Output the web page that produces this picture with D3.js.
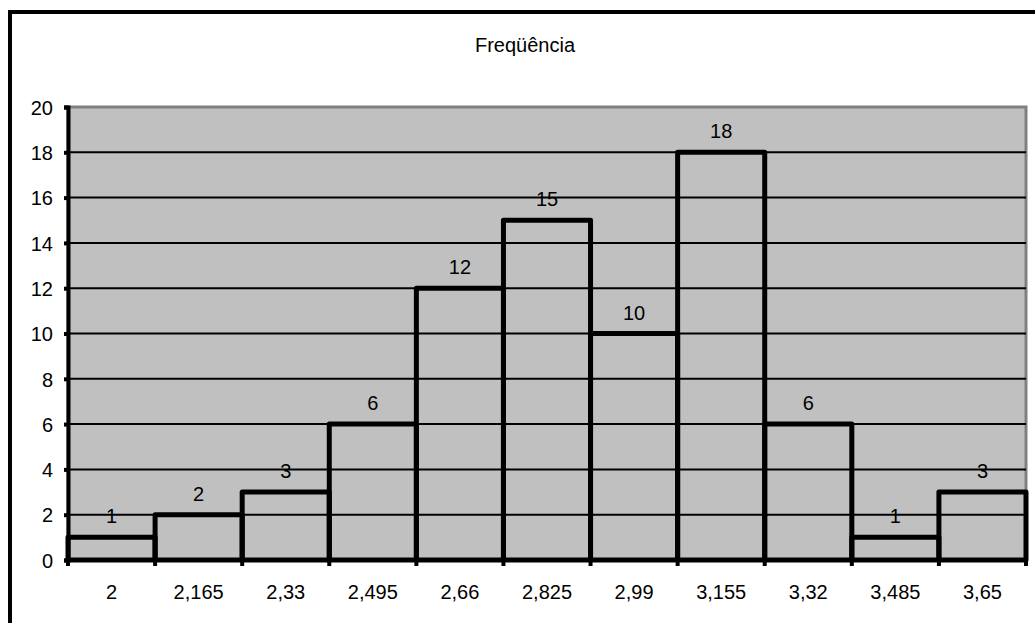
<!DOCTYPE html>
<html>
<head>
  <meta charset="UTF-8">
  <style>
    body { margin: 0; background: #fff; }
    text { font-family: "Liberation Sans", Arial, sans-serif; font-size: 20px; fill: #000; }
  </style>
</head>
<body>
<svg></svg>
<script src="https://d3js.org/d3.v7.min.js"></script>
<script>
// chart data
var title = "Freqüência";
var bins = ["2", "2,165", "2,33", "2,495", "2,66", "2,825", "2,99", "3,155", "3,32", "3,485", "3,65"];
var counts = [1, 2, 3, 6, 12, 15, 10, 18, 6, 1, 3];
var yTicks = [0, 2, 4, 6, 8, 10, 12, 14, 16, 18, 20];

let width = 1035, height = 623;
let svg = d3.select("svg").attr("width", width).attr("height", height);

// outer frame (runs off the right/bottom edge like the original)
svg.append("rect")
    .attr("x", 10).attr("y", 12)
    .attr("width", 1040).attr("height", 640)
    .attr("fill", "#fff")
    .attr("stroke", "#000")
    .attr("stroke-width", 4);

svg.append("text")
    .attr("x", 525).attr("y", 52)
    .attr("text-anchor", "middle")
    .text(title);

const plotL = 68, plotR = 1026, plotT = 107, plotB = 560;

var x = d3.scaleBand().domain(bins).range([plotL, plotR]);
var y = d3.scaleLinear().domain([0, 20]).range([plotB, plotT]);

// plot area
svg.append("rect")
    .attr("x", plotL).attr("y", plotT)
    .attr("width", plotR - plotL).attr("height", plotB - plotT)
    .attr("fill", "#c0c0c0")
    .attr("stroke", "#808080")
    .attr("stroke-width", 3);

// gridlines
svg.append("g")
    .selectAll("line")
    .data(yTicks.filter(d => d > 0 && d < 20))
    .enter()
    .append("line")
    .attr("x1", plotL).attr("x2", plotR)
    .attr("y1", d => y(d)).attr("y2", d => y(d))
    .attr("stroke", "#000")
    .attr("stroke-width", 2);

// bars
svg.append("g")
    .selectAll("rect")
    .data(counts)
    .enter()
    .append("rect")
    .attr("x", (d, i) => x(bins[i]))
    .attr("y", d => y(d))
    .attr("width", x.bandwidth())
    .attr("height", d => plotB - y(d))
    .attr("fill", "none")
    .attr("stroke", "#000")
    .attr("stroke-width", 5)
    .attr("stroke-linejoin", "round");

// value labels
svg.append("g")
    .selectAll("text")
    .data(counts)
    .enter()
    .append("text")
    .attr("x", (d, i) => x(bins[i]) + x.bandwidth() / 2)
    .attr("y", d => y(d) - 14)
    .attr("text-anchor", "middle")
    .text(d => d);

// y axis
var yAxis = svg.append("g")
    .attr("transform", "translate(" + plotL + ",0)")
    .call(d3.axisLeft(y).tickValues(yTicks).tickSize(4).tickPadding(11));
yAxis.select(".domain").attr("stroke", "#000").attr("stroke-width", 4);
yAxis.selectAll(".tick line").attr("stroke", "#000").attr("stroke-width", 4);
yAxis.selectAll("text")
    .style("font-family", "Liberation Sans, Arial, sans-serif")
    .style("font-size", "20px")
    .attr("fill", "#000")
    .attr("dy", "0.36em");

// x axis: labels centred in each bin, ticks on bin boundaries
var xAxis = svg.append("g")
    .attr("transform", "translate(0," + plotB + ")")
    .call(d3.axisBottom(x).tickSize(0).tickPadding(0));
xAxis.select(".domain").remove();
xAxis.selectAll("text")
    .style("font-family", "Liberation Sans, Arial, sans-serif")
    .style("font-size", "20px")
    .attr("fill", "#000")
    .attr("y", 39)
    .attr("dy", 0);

svg.append("line")
    .attr("x1", plotL - 2).attr("x2", plotR)
    .attr("y1", plotB).attr("y2", plotB)
    .attr("stroke", "#000").attr("stroke-width", 4);

svg.append("g")
    .selectAll("line")
    .data(bins.concat(["end"]))
    .enter()
    .append("line")
    .attr("x1", (d, i) => i < bins.length ? x(d) : plotR)
    .attr("x2", (d, i) => i < bins.length ? x(d) : plotR)
    .attr("y1", plotB).attr("y2", plotB + 6)
    .attr("stroke", "#000").attr("stroke-width", 4);
</script>
</body>
</html>
